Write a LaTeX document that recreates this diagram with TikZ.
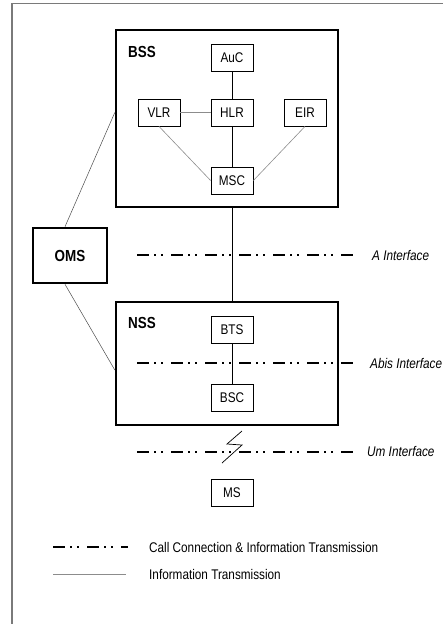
\documentclass[tikz,border=0pt]{standalone}
\usepackage{fontspec}
\setmainfont{Liberation Sans}[FakeStretch=0.84]
\usetikzlibrary{calc}
\definecolor{framegray}{HTML}{7A7A7A}
\definecolor{thingray}{HTML}{8C8C8C}
\tikzset{
  unit/.style={draw, line width=0.8pt, minimum width=42pt, minimum height=27pt,
    inner sep=0pt, font=\fontsize{14}{16}\selectfont},
  system/.style={draw, line width=2.4pt, inner sep=0pt},
  title/.style={font=\fontsize{16}{18}\selectfont\bfseries, anchor=west, inner sep=0pt},
  iflabel/.style={font=\fontsize{14}{16}\selectfont\itshape, anchor=west, inner sep=0pt},
  legendtext/.style={font=\fontsize{14}{16}\selectfont, anchor=west, inner sep=0pt},
  datalink/.style={line width=0.9pt},
  infolink/.style={line width=0.6pt, thingray},
  omslink/.style={line width=0.5pt, black!70},
  callline/.style={line width=1.3pt, dash pattern=on 12pt off 5pt on 2pt off 5pt on 2pt off 8pt}
}
\begin{document}
\begin{tikzpicture}[x=1pt, y=-1pt]
\useasboundingbox (0,0) rectangle (443,624);
% page frame (top and left edges)
\draw[framegray, line width=1.8pt] (443,3.5) -- (12,3.5) -- (12,624);

% subsystem boxes
\node[system, minimum width=222pt, minimum height=177pt] (BSS) at (227,118.5) {};
\node[system, minimum width=222pt, minimum height=123pt] (NSS) at (227,363.5) {};
\node[system, minimum width=74pt, minimum height=55pt, line width=2.6pt,
      font=\fontsize{16}{18}\selectfont\bfseries] (OMS) at (70,255.5) {OMS};
\node[title] (bsslabel) at (128,52) {BSS};
\node[title] (nsslabel) at (128,323) {NSS};

% network elements
\node[unit] (AuC) at (232,57.5) {AuC};
\node[unit] (VLR) at (159,112.5) {VLR};
\node[unit] (HLR) at (232,112.5) {HLR};
\node[unit] (EIR) at (305,112.5) {EIR};
\node[unit] (MSC) at (232,180.5) {MSC};
\node[unit] (BTS) at (232,329.5) {BTS};
\node[unit] (BSC) at (232,398) {BSC};
\node[unit] (MS)  at (232,492.5) {MS};

% links inside BSS
\draw[datalink] (AuC) -- (HLR);
\draw[datalink] (HLR) -- (MSC);
\draw[infolink] (VLR) -- (HLR);
\draw[infolink] (VLR.south) -- (MSC.west);
\draw[infolink] (EIR.south) -- (MSC.east);

% BSS to NSS, BTS to BSC
\draw[datalink] (BSS.south -| MSC) -- (NSS.north -| MSC);
\draw[datalink] (BTS) -- (BSC);

% OMS management links
\draw[omslink] (BSS.west |- VLR) -- ([xshift=-5pt]OMS.north);
\draw[omslink] ([xshift=-5pt]OMS.south) -- ([yshift=-6.5pt]NSS.west);

% interfaces
\coordinate (a1) at (137,255);  \coordinate (a2) at (354,255);
\coordinate (b1) at (137,363);  \coordinate (b2) at (354,363);
\coordinate (u1) at (137,452);  \coordinate (u2) at (354,452);
\draw[callline] (a1) -- (a2);
\draw[callline] (b1) -- (b2);
\draw[callline] (u1) -- (u2);
\node[iflabel] (alabel) at (372,255) {A Interface};
\node[iflabel] (blabel) at (370,363) {Abis Interface};
\node[iflabel] (ulabel) at (367,451.5) {Um Interface};

% radio link symbol
\coordinate (z1) at (242,431);
\coordinate (z2) at (227,444);
\coordinate (z3) at (242,445);
\coordinate (z4) at (222,463);
\draw[line width=0.7pt, line join=miter] (z1) -- (z2) -- (z3) -- (z4);

% legend
\coordinate (l1) at (53,547);  \coordinate (l2) at (128,547);
\coordinate (l3) at (53,574);  \coordinate (l4) at (126,574);
\draw[callline] (l1) -- (l2);
\draw[infolink] (l3) -- (l4);
\node[legendtext] (leg1) at (149,547) {Call Connection \& Information Transmission};
\node[legendtext] (leg2) at (149,574) {Information Transmission};
\end{tikzpicture}
\end{document}
